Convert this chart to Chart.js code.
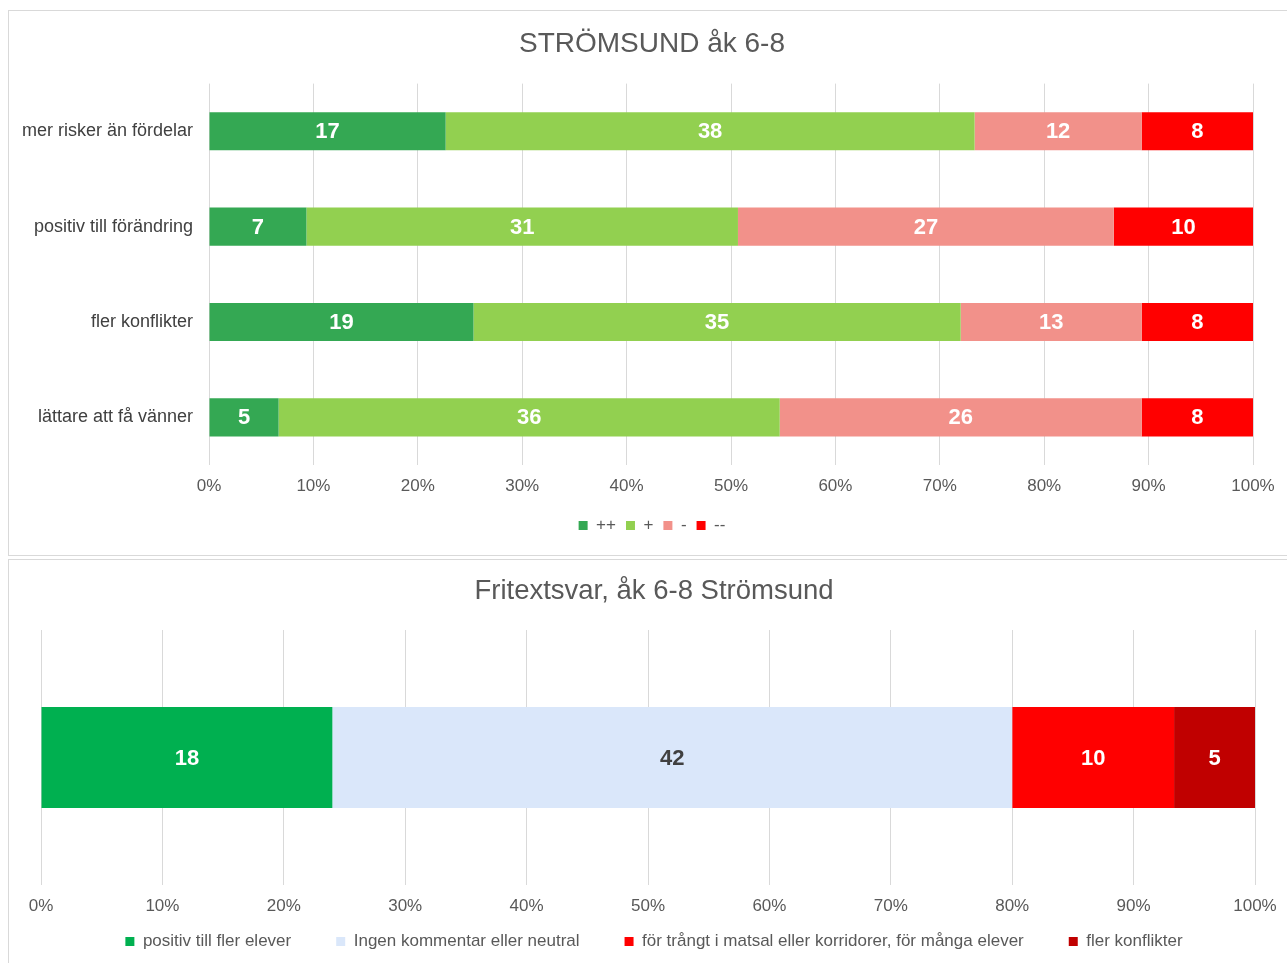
<!DOCTYPE html>
<html>
<head>
<meta charset="utf-8">
<script src="https://cdn.jsdelivr.net/npm/chart.js@4"></script>
<style>
  html, body { margin: 0; padding: 0; background: #ffffff; overflow: hidden; width: 1287px; height: 963px; }
  .panel { position: absolute; border: 1px solid #D9D9D9; box-sizing: border-box; }
  .wrap { position: absolute; }
</style>
</head>
<body>
<div class="panel" style="left:8px; top:10px; width:1300px; height:546px;"></div>
<div class="panel" style="left:8px; top:559px; width:1300px; height:420px;"></div>
<div class="wrap" style="left:0px; top:0px; width:1304px; height:556px;"><canvas id="c1"></canvas></div>
<div class="wrap" style="left:0px; top:557px; width:1287px; height:403px;"><canvas id="c2"></canvas></div>
<script>
// ---------- Data: chart 1 ----------
const title1 = 'STRÖMSUND åk 6-8';
const categories1 = ['mer risker än fördelar', 'positiv till förändring', 'fler konflikter', 'lättare att få vänner'];
const seriesNames1 = ['++', '+', '-', '--'];
const valuesPlusPlus = [17, 7, 19, 5];
const valuesPlus = [38, 31, 35, 36];
const valuesMinus = [12, 27, 13, 26];
const valuesMinusMinus = [8, 10, 8, 8];
const colors1 = ['#34A853', '#92D050', '#F2918A', '#FF0000'];

// ---------- Data: chart 2 ----------
const title2 = 'Fritextsvar, åk 6-8 Strömsund';
const categories2 = ['Strömsund åk 6-8'];
const seriesNames2 = ['positiv till fler elever', 'Ingen kommentar eller neutral', 'för trångt i matsal eller korridorer, för många elever', 'fler konflikter'];
const valuesPositiv = [18];
const valuesIngen = [42];
const valuesTrangt = [10];
const valuesKonflikter = [5];
const colors2 = ['#00B050', '#DAE7FA', '#FF0000', '#C00000'];
const labelColors2 = ['#FFFFFF', '#404040', '#FFFFFF', '#FFFFFF'];

// ---------- Ticks ----------
const tickValues = [0, 10, 20, 30, 40, 50, 60, 70, 80, 90, 100];
const tickSuffix = '%';

const FONT = "'Liberation Sans', Arial, sans-serif";

function toPercentSeries(seriesList) {
  const n = seriesList[0].length;
  const totals = [];
  for (let j = 0; j < n; j++) {
    let t = 0;
    seriesList.forEach(s => t += s[j]);
    totals.push(t);
  }
  return seriesList.map(s => s.map((v, j) => v / totals[j] * 100));
}

const valueLabelPlugin = {
  id: 'valueLabels',
  afterDatasetsDraw(chart) {
    const ctx = chart.ctx;
    chart.data.datasets.forEach((ds, i) => {
      const meta = chart.getDatasetMeta(i);
      if (meta.hidden) return;
      meta.data.forEach((bar, j) => {
        const p = bar.getProps(['x', 'y', 'base'], true);
        ctx.save();
        ctx.fillStyle = ds.labelColor || '#FFFFFF';
        ctx.font = "bold 22px " + FONT;
        ctx.textAlign = 'center';
        ctx.textBaseline = 'middle';
        ctx.fillText(String(ds.counts[j]), (p.x + p.base) / 2, p.y + 1);
        ctx.restore();
      });
    });
  }
};

function xScale(tickPad, mirror) {
  return {
    stacked: true,
    min: 0,
    max: 100,
    afterBuildTicks(scale) { scale.ticks = tickValues.map(v => ({ value: v })); },
    ticks: {
      color: '#595959',
      font: { family: FONT, size: 17 },
      padding: tickPad,
      mirror: !!mirror,
      maxRotation: 0,
      callback: v => v + tickSuffix
    },
    grid: { color: '#D9D9D9', lineWidth: 1, drawTicks: false },
    border: { display: false }
  };
}

function spacerAxis(width) {
  return {
    position: 'right',
    afterFit: s => { s.width = width; },
    ticks: { display: false },
    grid: { display: false, drawTicks: false },
    border: { display: false }
  };
}

// ---------- Chart 1 ----------
const series1 = [valuesPlusPlus, valuesPlus, valuesMinus, valuesMinusMinus];
const pct1 = toPercentSeries(series1);
const x1 = xScale(11, false);
x1.afterFit = s => { s.height = 42; };
new Chart(document.getElementById('c1'), {
  type: 'bar',
  data: {
    labels: categories1,
    datasets: seriesNames1.map((name, i) => ({
      label: name,
      data: pct1[i],
      counts: series1[i],
      backgroundColor: colors1[i],
      borderWidth: 0,
      barPercentage: 0.4,
      categoryPercentage: 1.0,
      labelColor: '#FFFFFF'
    }))
  },
  options: {
    indexAxis: 'y',
    responsive: true,
    maintainAspectRatio: false,
    animation: false,
    layout: { padding: { left: 0, right: 0, top: 0, bottom: 12 } },
    scales: {
      x: x1,
      y: {
        stacked: true,
        afterFit: s => { s.width = 209; },
        ticks: { color: '#404040', font: { family: FONT, size: 18 }, padding: 16 },
        grid: { display: false, drawTicks: false },
        border: { display: false }
      },
      yRight: spacerAxis(51)
    },
    plugins: {
      title: {
        display: true,
        text: title1,
        color: '#595959',
        font: { family: FONT, size: 28, weight: 'normal', lineHeight: 1.2 },
        padding: { top: 27, bottom: 23 }
      },
      legend: {
        display: true,
        position: 'bottom',
        labels: {
          boxWidth: 9,
          boxHeight: 9,
          padding: 10,
          color: '#595959',
          font: { family: FONT, size: 17 }
        }
      },
      tooltip: { enabled: false }
    }
  },
  plugins: [valueLabelPlugin]
});

// ---------- Chart 2 ----------
const series2 = [valuesPositiv, valuesIngen, valuesTrangt, valuesKonflikter];
const pct2 = toPercentSeries(series2);
const x2 = xScale(-32, true);
x2.afterFit = s => { s.height = 3; };
new Chart(document.getElementById('c2'), {
  type: 'bar',
  data: {
    labels: categories2,
    datasets: seriesNames2.map((name, i) => ({
      label: name,
      data: pct2[i],
      counts: series2[i],
      backgroundColor: colors2[i],
      borderWidth: 0,
      barPercentage: 0.396,
      categoryPercentage: 1.0,
      labelColor: labelColors2[i]
    }))
  },
  options: {
    indexAxis: 'y',
    responsive: true,
    maintainAspectRatio: false,
    animation: false,
    layout: { padding: { left: 41, right: 20, top: 0, bottom: 0 } },
    scales: {
      x: x2,
      y: Object.assign({ stacked: true }, spacerAxis(12))
    },
    plugins: {
      title: {
        display: true,
        text: title2,
        color: '#595959',
        font: { family: FONT, size: 27.5, weight: 'normal', lineHeight: 1.2 },
        padding: { top: 18, bottom: 22 }
      },
      legend: {
        display: true,
        position: 'bottom',
        labels: {
          boxWidth: 9,
          boxHeight: 9,
          padding: 45,
          color: '#595959',
          font: { family: FONT, size: 17 }
        }
      },
      tooltip: { enabled: false }
    }
  },
  plugins: [valueLabelPlugin]
});
</script>
</body>
</html>
